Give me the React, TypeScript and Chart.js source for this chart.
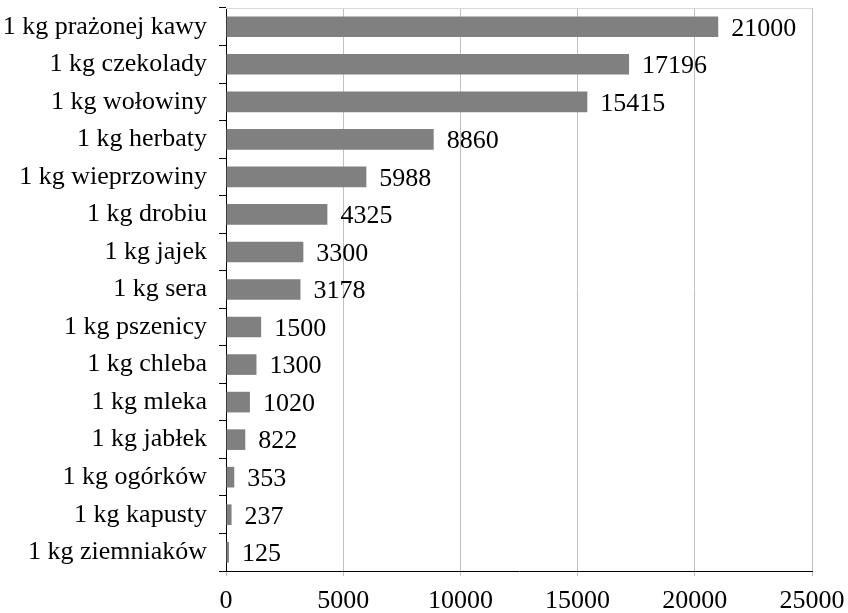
import React, { useEffect, useRef } from "react";
import { Chart, registerables } from "chart.js";

Chart.register(...registerables);

const categories = [
  "1 kg prażonej kawy",
  "1 kg czekolady",
  "1 kg wołowiny",
  "1 kg herbaty",
  "1 kg wieprzowiny",
  "1 kg drobiu",
  "1 kg jajek",
  "1 kg sera",
  "1 kg pszenicy",
  "1 kg chleba",
  "1 kg mleka",
  "1 kg jabłek",
  "1 kg ogórków",
  "1 kg kapusty",
  "1 kg ziemniaków",
];
const values = [21000, 17196, 15415, 8860, 5988, 4325, 3300, 3178, 1500, 1300, 1020, 822, 353, 237, 125];
const xTicks = [0, 5000, 10000, 15000, 20000, 25000];

const FONT = '"Liberation Serif", "Times New Roman", serif';

const labelPlugin = {
  id: "valueLabels",
  afterDatasetsDraw(chart: any) {
    const ctx = chart.ctx;
    const meta = chart.getDatasetMeta(0);
    ctx.save();
    ctx.font = `26px ${FONT}`;
    ctx.fillStyle = "#000";
    ctx.textBaseline = "middle";
    ctx.textAlign = "left";
    meta.data.forEach((bar: any, i: number) => {
      ctx.fillText(String(values[i]), bar.x + 13, bar.y + 2);
    });
    ctx.restore();
  },
  beforeDatasetsDraw(chart: any) {
    const { ctx, chartArea } = chart;
    ctx.save();
    ctx.strokeStyle = "#d9d9d9";
    ctx.lineWidth = 1;
    ctx.beginPath();
    ctx.moveTo(chartArea.left, chartArea.top + 0.5);
    ctx.lineTo(chartArea.right, chartArea.top + 0.5);
    ctx.stroke();
    ctx.restore();
  },
};

export default function App() {
  const ref = useRef<HTMLCanvasElement>(null);
  useEffect(() => {
    document.body.style.margin = "0";
    const chart = new Chart(ref.current!, {
      type: "bar",
      data: {
        labels: categories,
        datasets: [
          {
            data: values,
            backgroundColor: "#808080",
            borderWidth: 0,
            categoryPercentage: 1,
            barPercentage: 0.55,
          },
        ],
      },
      options: {
        indexAxis: "y",
        responsive: false,
        animation: false,
        maintainAspectRatio: false,
        layout: { padding: { top: 8, right: 36, left: 0, bottom: 0 } },
        plugins: { legend: { display: false }, tooltip: { enabled: false } },
        scales: {
          x: {
            min: 0,
            max: 25000,
            afterBuildTicks: (scale: any) => {
              scale.ticks = xTicks.map((v) => ({ value: v }));
            },
            afterFit: (scale: any) => {
              scale.height = 42;
              scale.paddingLeft = 0;
              scale.paddingRight = 0;
            },
            grid: { color: "#c0c0c0", tickLength: 5, tickColor: "#c0c0c0" },
            border: { color: "#000", width: 1 },
            ticks: {
              color: "#000",
              font: { family: FONT, size: 26 },
              padding: 10,
              maxRotation: 0,
              autoSkip: false,
              callback: (v: any) => String(v),
            },
          },
          y: {
            afterFit: (scale: any) => {
              scale.width = 226;
              scale.paddingTop = 0;
              scale.paddingBottom = 0;
            },
            grid: { drawOnChartArea: false, drawTicks: true, tickLength: 7, color: "#000" },
            border: { color: "#000", width: 1 },
            ticks: {
              color: "#000",
              font: { family: FONT, size: 26 },
              padding: 12,
              autoSkip: false,
            },
          },
        },
      },
      plugins: [labelPlugin],
    });
    return () => chart.destroy();
  }, []);
  return <canvas ref={ref} width={848} height={613} style={{ display: "block" }} />;
}
